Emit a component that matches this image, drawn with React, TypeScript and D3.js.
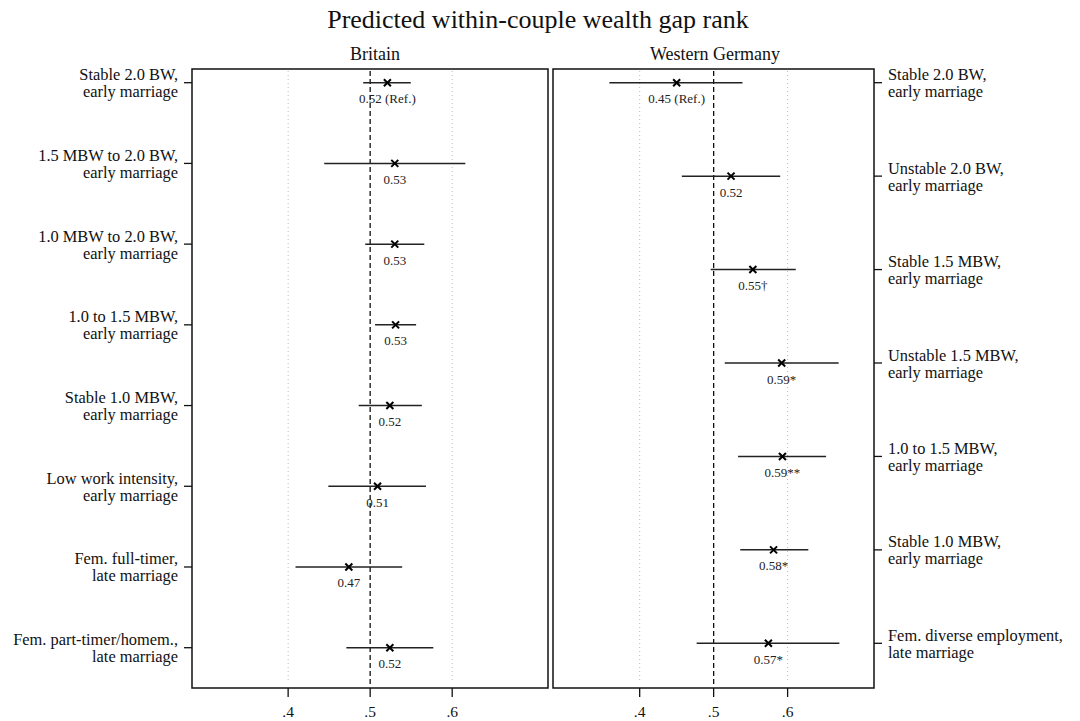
import React from "react";
import * as d3 from "d3";

const title = "Predicted within-couple wealth gap rank";
const panelTitles = ["Britain", "Western Germany"];
const xTicks = [0.4, 0.5, 0.6];
const refValue = 0.5;

const britainCats = [
  ["Stable 2.0 BW,", "early marriage"],
  ["1.5 MBW to 2.0 BW,", "early marriage"],
  ["1.0 MBW to 2.0 BW,", "early marriage"],
  ["1.0 to 1.5 MBW,", "early marriage"],
  ["Stable 1.0 MBW,", "early marriage"],
  ["Low work intensity,", "early marriage"],
  ["Fem. full-timer,", "late marriage"],
  ["Fem. part-timer/homem.,", "late marriage"],
];
const britainEst = [0.521, 0.530, 0.530, 0.531, 0.524, 0.509, 0.474, 0.524];
const britainLo = [0.4915, 0.444, 0.494, 0.506, 0.486, 0.449, 0.409, 0.471];
const britainHi = [0.5495, 0.616, 0.566, 0.556, 0.563, 0.568, 0.539, 0.577];
const britainSig = [" (Ref.)", "", "", "", "", "", "", ""];

const germanyCats = [
  ["Stable 2.0 BW,", "early marriage"],
  ["Unstable 2.0 BW,", "early marriage"],
  ["Stable 1.5 MBW,", "early marriage"],
  ["Unstable 1.5 MBW,", "early marriage"],
  ["1.0 to 1.5 MBW,", "early marriage"],
  ["Stable 1.0 MBW,", "early marriage"],
  ["Fem. diverse employment,", "late marriage"],
];
const germanyEst = [0.450, 0.5235, 0.553, 0.592, 0.593, 0.581, 0.574];
const germanyLo = [0.359, 0.457, 0.496, 0.515, 0.533, 0.536, 0.477];
const germanyHi = [0.539, 0.590, 0.611, 0.669, 0.652, 0.628, 0.670];
const germanySig = [" (Ref.)", "", "\u2020", "*", "**", "*", "*"];

const FONT = "'Liberation Serif', 'Times New Roman', serif";

type PanelProps = {
  x0: number;
  x1: number;
  yTop: number;
  yBottom: number;
  rowTop: number;
  rowBottom: number;
  cats: string[][];
  est: number[];
  lo: number[];
  hi: number[];
  sig: string[];
  side: "left" | "right";
  ptitle: string;
  titleX: number;
};

function Panel(p: PanelProps) {
  const x = d3.scaleLinear().domain([0.2828, 0.7168]).range([p.x0, p.x1]);
  const y = d3
    .scalePoint<number>()
    .domain(p.cats.map((_, i) => i))
    .range([p.rowTop, p.rowBottom]);
  const m = 3.5;
  return (
    <g>
      <text x={p.titleX} y={60} textAnchor="middle" fontSize={18} fontFamily={FONT} fill="#111">
        {p.ptitle}
      </text>
      {xTicks
        .filter((t) => t !== refValue)
        .map((t) => (
          <line
            key={"g" + t}
            x1={x(t)}
            x2={x(t)}
            y1={p.yTop + 2}
            y2={p.yBottom - 6}
            stroke="#bbb"
            strokeWidth={1}
            strokeDasharray="1,3"
          />
        ))}
      <line
        x1={x(refValue)}
        x2={x(refValue)}
        y1={p.yTop + 2}
        y2={p.yBottom - 3}
        stroke="#111"
        strokeWidth={1.3}
        strokeDasharray="5,3"
      />
      {p.cats.map((c, i) => {
        const yy = y(i) as number;
        const cx = x(p.est[i]);
        return (
          <g key={i}>
            <line x1={x(p.lo[i])} x2={x(p.hi[i])} y1={yy} y2={yy} stroke="#222" strokeWidth={1.5} />
            <path
              d={`M${cx - m},${yy - m}L${cx + m},${yy + m}M${cx - m},${yy + m}L${cx + m},${yy - m}`}
              stroke="#000"
              strokeWidth={2}
            />
            <text x={cx} y={yy + 20.5} textAnchor="middle" fontSize={13} fontFamily={FONT} fill="#222">
              {p.est[i].toFixed(2) + p.sig[i]}
            </text>
            {p.side === "left" ? (
              <g>
                <line x1={p.x0 - 8} x2={p.x0} y1={yy} y2={yy} stroke="#111" strokeWidth={1.3} />
                <text x={p.x0 - 14} y={yy - 2.5} textAnchor="end" fontSize={16.4} fontFamily={FONT} fill="#111">
                  <tspan x={p.x0 - 14}>{c[0]}</tspan>
                  <tspan x={p.x0 - 14} dy={17}>
                    {c[1]}
                  </tspan>
                </text>
              </g>
            ) : (
              <g>
                <line x1={p.x1} x2={p.x1 + 8} y1={yy} y2={yy} stroke="#111" strokeWidth={1.3} />
                <text x={p.x1 + 14} y={yy - 2.5} textAnchor="start" fontSize={16.4} fontFamily={FONT} fill="#111">
                  <tspan x={p.x1 + 14}>{c[0]}</tspan>
                  <tspan x={p.x1 + 14} dy={17}>
                    {c[1]}
                  </tspan>
                </text>
              </g>
            )}
          </g>
        );
      })}
      <rect
        x={p.x0}
        y={p.yTop}
        width={p.x1 - p.x0}
        height={p.yBottom - p.yTop}
        fill="none"
        stroke="#111"
        strokeWidth={1.5}
      />
      {xTicks.map((t) => (
        <g key={"t" + t}>
          <line x1={x(t)} x2={x(t)} y1={p.yBottom} y2={p.yBottom + 9} stroke="#111" strokeWidth={1.3} />
          <text x={x(t)} y={p.yBottom + 29} textAnchor="middle" fontSize={15.5} fontFamily={FONT} fill="#111">
            {d3.format(".1f")(t).replace(/^0/, "")}
          </text>
        </g>
      ))}
    </g>
  );
}

export default function App() {
  return (
    <svg
      width={1080}
      height={721}
      style={{ position: "absolute", left: 0, top: 0, background: "#fff" }}
    >
      <rect width={1080} height={721} fill="#fff" />
      <text x={538} y={28} textAnchor="middle" fontSize={26} fontFamily={FONT} fill="#111">
        {title}
      </text>
      <Panel
        x0={192}
        x1={548}
        yTop={69}
        yBottom={688}
        rowTop={82.7}
        rowBottom={647.7}
        cats={britainCats}
        est={britainEst}
        lo={britainLo}
        hi={britainHi}
        sig={britainSig}
        side="left"
        ptitle={panelTitles[0]}
        titleX={375}
      />
      <Panel
        x0={553}
        x1={874}
        yTop={69}
        yBottom={688}
        rowTop={82.7}
        rowBottom={643.3}
        cats={germanyCats}
        est={germanyEst}
        lo={germanyLo}
        hi={germanyHi}
        sig={germanySig}
        side="right"
        ptitle={panelTitles[1]}
        titleX={715}
      />
    </svg>
  );
}
